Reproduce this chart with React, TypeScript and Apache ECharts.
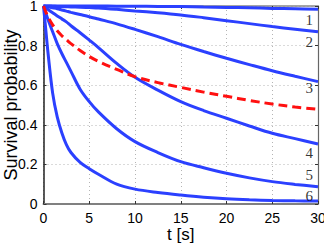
import React, { useEffect, useRef } from "react";
import * as echarts from "echarts";

const T = [0, 0.25, 0.5, 1, 1.5, 2, 2.5, 3, 4, 5, 6, 8, 10, 12.5, 15, 17.5, 20, 22.5, 25, 27.5, 30];
const c1 = [1, 1, 1, 1, 1, 1, 1, 1, 1, 1, 1, 0.999, 0.999, 0.998, 0.997, 0.995, 0.993, 0.991, 0.988, 0.986, 0.983];
const c2 = [1, 1, 1, 0.999, 0.998, 0.997, 0.996, 0.995, 0.994, 0.992, 0.99, 0.983, 0.975, 0.966, 0.955, 0.941, 0.926, 0.911, 0.896, 0.883, 0.87];
const c3 = [1, 0.998, 0.996, 0.991, 0.986, 0.98, 0.974, 0.968, 0.957, 0.946, 0.934, 0.91, 0.882, 0.845, 0.806, 0.77, 0.736, 0.704, 0.673, 0.645, 0.618];
const c4 = [1, 0.99, 0.982, 0.966, 0.95, 0.935, 0.92, 0.9, 0.865, 0.828, 0.79, 0.71, 0.64, 0.575, 0.517, 0.472, 0.433, 0.394, 0.357, 0.33, 0.303];
const c5 = [1, 0.965, 0.93, 0.87, 0.81, 0.76, 0.715, 0.67, 0.58, 0.517, 0.465, 0.38, 0.315, 0.26, 0.214, 0.183, 0.155, 0.132, 0.113, 0.099, 0.087];
const c6 = [1, 0.88, 0.76, 0.56, 0.44, 0.36, 0.3, 0.26, 0.21, 0.178, 0.15, 0.1, 0.075, 0.058, 0.045, 0.034, 0.026, 0.021, 0.018, 0.016, 0.015];
const mean = [1, 0.97, 0.945, 0.905, 0.875, 0.85, 0.83, 0.81, 0.775, 0.745, 0.72, 0.68, 0.643, 0.613, 0.589, 0.565, 0.544, 0.523, 0.505, 0.49, 0.478];

const curveNames = ["1", "2", "3", "4", "5", "6"];
const curves = [c1, c2, c3, c4, c5, c6];
const labelT = [29.04, 29.04, 29.04, 29.04, 29.04, 29.04];
const labelV = [0.929, 0.82, 0.584, 0.256, 0.146, 0.04];

const SANS = "Liberation Sans, Arial, sans-serif";
const SERIF = "Liberation Serif, Times New Roman, serif";

export default function App() {
  const ref = useRef<HTMLDivElement>(null);
  useEffect(() => {
    if (!ref.current) return;
    const chart = echarts.init(ref.current, null, { renderer: "svg" });
    const pair = (arr: number[]) => T.map((t, i) => [t, arr[i]]);
    const blueSeries = curves.map((arr, k) => ({
      name: "curve " + curveNames[k],
      type: "line",
      data: pair(arr),
      smooth: 0.35,
      showSymbol: false,
      clip: false,
      lineStyle: { color: "#2b40ff", width: 3 },
      z: 3,
    }));
    chart.setOption({
      animation: false,
      grid: {
        left: 43.5,
        right: 6,
        top: 6,
        bottom: 43,
        containLabel: false,
        outerBoundsMode: "none",
      },
      xAxis: [
        {
          type: "value",
          min: 0,
          max: 30,
          interval: 5,
          position: "bottom",
          name: "t [s]",
          nameLocation: "middle",
          nameGap: 22,
          nameMoveOverlap: false,
          nameTextStyle: { fontSize: 17, color: "#000", fontFamily: SANS },
          axisLine: { show: true, onZero: false, lineStyle: { color: "#808080", width: 2 } },
          axisTick: { show: true, inside: true, length: 3, lineStyle: { color: "#333" } },
          axisLabel: { color: "#000", fontSize: 14, fontFamily: SANS, margin: 7 },
          splitLine: { show: true, lineStyle: { color: "#b4b4b4", width: 1, type: [1, 3] } },
        },
        {
          type: "value",
          min: 0,
          max: 30,
          interval: 5,
          position: "top",
          axisLine: { show: true, onZero: false, lineStyle: { color: "#888", width: 1.5 } },
          axisTick: { show: true, inside: true, length: 3, lineStyle: { color: "#333" } },
          axisLabel: { show: false },
          splitLine: { show: false },
        },
      ],
      yAxis: [
        {
          type: "value",
          min: 0,
          max: 1,
          interval: 0.2,
          position: "left",
          name: "Survival probability",
          nameLocation: "middle",
          nameGap: 24,
          nameMoveOverlap: false,
          nameTextStyle: { fontSize: 18, color: "#000", fontFamily: SANS },
          axisLine: { show: true, onZero: false, lineStyle: { color: "#222", width: 1.5 } },
          axisTick: { show: true, inside: true, length: 3, lineStyle: { color: "#333" } },
          axisLabel: { color: "#000", fontSize: 14, fontFamily: SANS, margin: 6 },
          splitLine: { show: true, lineStyle: { color: "#b4b4b4", width: 1, type: [1, 3] } },
        },
        {
          type: "value",
          min: 0,
          max: 1,
          interval: 0.2,
          position: "right",
          axisLine: { show: true, onZero: false, lineStyle: { color: "#666", width: 1.2 } },
          axisTick: { show: true, inside: true, length: 3, lineStyle: { color: "#333" } },
          axisLabel: { show: false },
          splitLine: { show: false },
        },
      ],
      series: [
        ...blueSeries,
        {
          name: "mean",
          type: "line",
          data: pair(mean),
          smooth: 0.35,
          showSymbol: false,
          clip: false,
          lineStyle: { color: "#ff1010", width: 3, type: [9, 5] },
          z: 4,
        },
        {
          name: "labels",
          type: "scatter",
          symbolSize: 1,
          itemStyle: { color: "rgba(0,0,0,0)" },
          data: curveNames.map((n, i) => ({ name: n, value: [labelT[i], labelV[i]] })),
          label: {
            show: true,
            position: "inside",
            formatter: (p: any) => p.name,
            fontSize: 15,
            fontFamily: SERIF,
            color: "#000",
          },
          z: 5,
        },
      ],
    });
    return () => chart.dispose();
  }, []);
  return (
    <div
      ref={ref}
      style={{ position: "fixed", left: 0, top: 0, width: 324, height: 247, background: "#fff" }}
    />
  );
}
